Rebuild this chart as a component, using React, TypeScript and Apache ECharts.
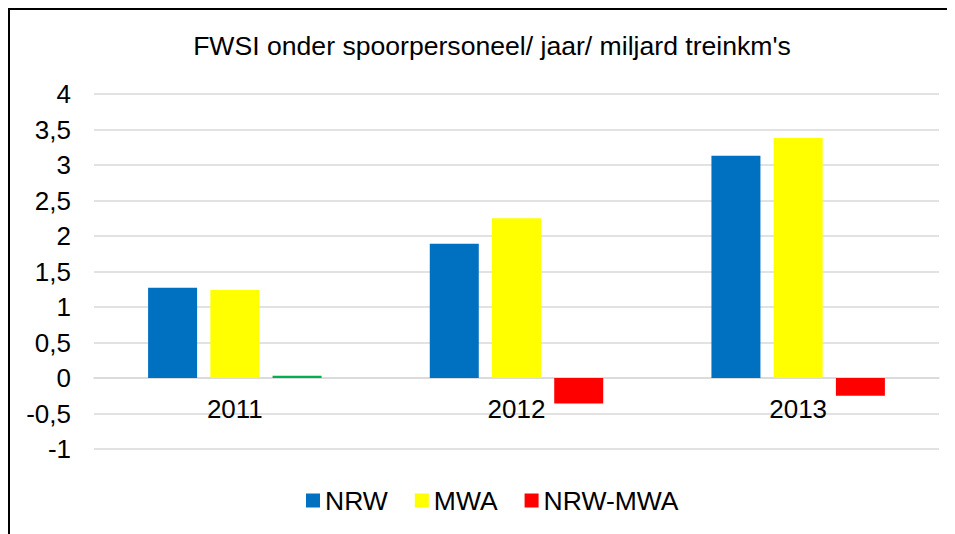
import React, { useEffect, useRef } from "react";
import * as echarts from "echarts";

const titleText = "FWSI onder spoorpersoneel/ jaar/ miljard treinkm's";
const categories = ["2011", "2012", "2013"];
const nrw = [1.27, 1.89, 3.13];
const mwa = [1.24, 2.25, 3.38];
const diff = [0.03, -0.36, -0.25];
const seriesNames = ["NRW", "MWA", "NRW-MWA"];
const colors = ["#0070C0", "#FFFF00", "#FF0000"];
const positiveDiffColor = "#00B050";

const FONT = "'Liberation Sans', Arial, sans-serif";

export default function App() {
  const ref = useRef<HTMLDivElement>(null);
  useEffect(() => {
    if (!ref.current) return;
    const chart = echarts.init(ref.current, undefined, { renderer: "svg" });
    chart.setOption({
      animation: false,
      backgroundColor: "#ffffff",
      textStyle: { fontFamily: FONT },
      title: {
        text: titleText,
        left: 477,
        top: 17,
        textAlign: "center",
        textStyle: { fontFamily: FONT, fontSize: 26.6, fontWeight: "normal", color: "#000" },
      },
      legend: {
        data: seriesNames,
        left: 291,
        top: 472,
        icon: "rect",
        itemWidth: 14,
        itemHeight: 14,
        itemGap: 27,
        textStyle: { fontFamily: FONT, fontSize: 26.5, color: "#000" },
      },
      grid: { left: 84, right: 16, top: 84, bottom: 85, containLabel: false },
      xAxis: {
        type: "category",
        data: categories,
        position: "bottom",
        offset: -71,
        axisLine: { onZero: false, lineStyle: { color: "#d9d9d9", width: 1.5 } },
        axisTick: { show: false },
        axisLabel: { fontFamily: FONT, fontSize: 26, color: "#000", margin: 18 },
        splitLine: { show: false },
      },
      yAxis: {
        type: "value",
        min: -1,
        max: 4,
        interval: 0.5,
        axisLine: { show: false },
        axisTick: { show: false },
        axisLabel: {
          fontFamily: FONT,
          fontSize: 26,
          color: "#000",
          margin: 23,
          formatter: (v: number) => String(v).replace(".", ","),
        },
        splitLine: { lineStyle: { color: "#d9d9d9", width: 1.5 } },
      },
      series: [
        {
          name: seriesNames[0],
          type: "bar",
          data: nrw,
          barWidth: 49,
          barGap: "27%",
          itemStyle: { color: colors[0] },
        },
        {
          name: seriesNames[1],
          type: "bar",
          data: mwa,
          barWidth: 49,
          barGap: "27%",
          itemStyle: { color: colors[1] },
        },
        {
          name: seriesNames[2],
          type: "bar",
          data: diff.map((v) => (v > 0 ? { value: v, itemStyle: { color: positiveDiffColor } } : v)),
          barWidth: 49,
          barGap: "27%",
          itemStyle: { color: colors[2] },
        },
      ],
    });
    return () => chart.dispose();
  }, []);
  return (
    <div
      style={{
        width: 947,
        height: 526,
        boxSizing: "border-box",
        borderLeft: "2px solid #000",
        borderTop: "2px solid #000",
      }}
    >
      <div ref={ref} style={{ width: 945, height: 524 }} />
    </div>
  );
}
